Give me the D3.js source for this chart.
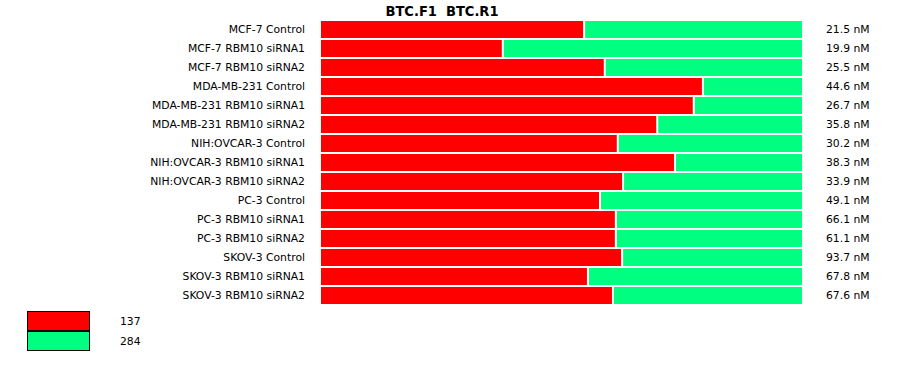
<!DOCTYPE html>
<html>
<head>
<meta charset="utf-8">
<script src="https://cdn.jsdelivr.net/npm/d3@7"></script>
<style>
  body { margin: 0; background: #fff; }
  text { font-family: "DejaVu Sans", Verdana, sans-serif; fill: #000; }
</style>
</head>
<body>
<div id="chart"></div>
<script>
// Sample names (rows)
const samples = [
    "MCF-7 Control", "MCF-7 RBM10 siRNA1", "MCF-7 RBM10 siRNA2",
    "MDA-MB-231 Control", "MDA-MB-231 RBM10 siRNA1", "MDA-MB-231 RBM10 siRNA2",
    "NIH:OVCAR-3 Control", "NIH:OVCAR-3 RBM10 siRNA1", "NIH:OVCAR-3 RBM10 siRNA2",
    "PC-3 Control", "PC-3 RBM10 siRNA1", "PC-3 RBM10 siRNA2",
    "SKOV-3 Control", "SKOV-3 RBM10 siRNA1", "SKOV-3 RBM10 siRNA2"
];
// Share (%) of each isoform per row
const share137 = [54.7, 37.8, 59.0, 79.4, 77.5, 69.9, 61.7, 73.6, 62.8, 58.0, 61.3, 61.3, 62.6, 55.5, 60.7];
const share284 = [45.3, 62.2, 41.0, 20.6, 22.5, 30.1, 38.3, 26.4, 37.2, 42.0, 38.7, 38.7, 37.4, 44.5, 39.3];
// Total expression labels on the right
const totals = ["21.5 nM", "19.9 nM", "25.5 nM", "44.6 nM", "26.7 nM", "35.8 nM", "30.2 nM",
    "38.3 nM", "33.9 nM", "49.1 nM", "66.1 nM", "61.1 nM", "93.7 nM", "67.8 nM", "67.6 nM"];
const seriesNames = ["137", "284"];
const colors = ["#ff0000", "#00ff80"];
const title = "BTC.F1  BTC.R1";

const width = 900, height = 375;
const margin = { top: 20, left: 321, right: 98 };
const innerWidth = width - margin.left - margin.right;

const svg = d3.select("#chart").append("svg")
    .attr("width", width)
    .attr("height", height);

// Title (keep the double space)
svg.append("text")
    .attr("x", 442)
    .attr("y", 16)
    .attr("text-anchor", "middle")
    .style("white-space", "pre")
    .style("font-family", "'DejaVu Sans Condensed', 'DejaVu Sans', sans-serif")
    .style("font-size", "14.5px")
    .style("font-weight", "bold")
    .text(title);

const y = d3.scaleBand()
    .domain(samples)
    .range([margin.top, margin.top + samples.length * 19])
    .paddingInner(2 / 19)
    .paddingOuter(1 / 19);

const x = d3.scaleLinear().domain([0, 100]).range([margin.left, margin.left + innerWidth]);

const rows = svg.append("g").selectAll("g")
    .data(samples)
    .join("g");

rows.each(function (name, i) {
    const g = d3.select(this);
    const top = y(name);
    const h = y.bandwidth();
    const split = share137[i];
    // red part
    g.append("rect")
        .attr("x", x(0))
        .attr("y", top)
        .attr("width", x(split) - x(0) - 1)
        .attr("height", h)
        .attr("fill", colors[0]);
    // green part
    g.append("rect")
        .attr("x", x(split) + 1)
        .attr("y", top)
        .attr("width", x(split + share284[i]) - x(split) - 1)
        .attr("height", h)
        .attr("fill", colors[1]);
    // row label
    g.append("text")
        .attr("x", 305)
        .attr("y", top + h / 2)
        .attr("dy", "0.35em")
        .attr("text-anchor", "end")
        .style("font-size", "10.8px")
        .text(name);
    // total
    g.append("text")
        .attr("x", 826)
        .attr("y", top + h / 2)
        .attr("dy", "0.35em")
        .style("font-size", "10.8px")
        .text(totals[i]);
});

// Legend
const legend = svg.append("g").attr("transform", "translate(27,311)");
seriesNames.forEach((s, i) => {
    legend.append("rect")
        .attr("x", 0.5)
        .attr("y", i * 20 + 0.5)
        .attr("width", 62)
        .attr("height", 19)
        .attr("fill", colors[i])
        .attr("stroke", "#000")
        .attr("stroke-width", 1);
    legend.append("text")
        .attr("x", 93)
        .attr("y", i * 20 + 10)
        .attr("dy", "0.35em")
        .style("font-size", "10.8px")
        .text(s);
});
</script>
</body>
</html>
